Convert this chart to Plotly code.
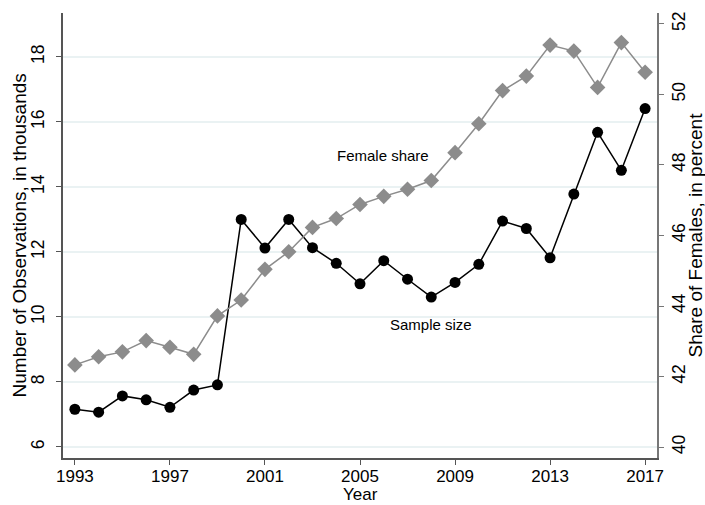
import plotly.graph_objects as go

years = list(range(1993, 2018))
sample_size = [7.16, 7.07, 7.57, 7.45, 7.22, 7.75, 7.91, 13.0, 12.12, 13.0, 12.13, 11.65, 11.02,
               11.73, 11.16, 10.61, 11.06, 11.62, 12.95, 12.72, 11.82, 13.78, 15.68, 14.51, 16.41]
female_share = [42.33, 42.56, 42.70, 43.02, 42.83, 42.63, 43.72, 44.17, 45.04, 45.54, 46.23, 46.48, 46.88,
                47.11, 47.31, 47.56, 48.35, 49.17, 50.11, 50.52, 51.40, 51.23, 50.20, 51.47, 50.63]
x_ticks = [1993, 1997, 2001, 2005, 2009, 2013, 2017]
left_ticks = [6, 8, 10, 12, 14, 16, 18]
right_ticks = [40, 42, 44, 46, 48, 50, 52]

font = "Liberation Sans"

fig = go.Figure()
fig.add_trace(go.Scatter(x=years, y=female_share, yaxis="y2", mode="lines+markers",
                         line=dict(color="#8c8c8c", width=1.5),
                         marker=dict(symbol="diamond", size=12, color="#8c8c8c"),
                         showlegend=False))
fig.add_trace(go.Scatter(x=years, y=sample_size, yaxis="y", mode="lines+markers",
                         line=dict(color="#000000", width=1.5),
                         marker=dict(symbol="circle", size=11, color="#000000"),
                         showlegend=False))

fig.add_annotation(x=2005.97, y=48.28, yref="y2", text="Female share", showarrow=False,
                   font=dict(family=font, size=15, color="#000"))
fig.add_annotation(x=2008.0, y=9.78, yref="y", text="Sample size", showarrow=False,
                   font=dict(family=font, size=15, color="#000"))

# axis titles as paper annotations
fig.add_annotation(xref="paper", yref="paper", x=0.5, y=-0.0809, text="Year", showarrow=False,
                   xanchor="center", yanchor="middle", font=dict(family=font, size=17, color="#000"))
fig.add_annotation(xref="paper", yref="paper", x=-0.0725, y=0.5, text="Number of Observations, in thousands",
                   showarrow=False, textangle=-90, xanchor="center", yanchor="middle",
                   font=dict(family=font, size=19, color="#000"))
fig.add_annotation(xref="paper", yref="paper", x=1.064, y=0.5, text="Share of Females, in percent",
                   showarrow=False, textangle=-90, xanchor="center", yanchor="middle",
                   font=dict(family=font, size=19, color="#000"))

fig.update_layout(
    width=705, height=505,
    margin=dict(l=63, r=48, t=13, b=47),
    paper_bgcolor="white", plot_bgcolor="white",
    font=dict(family=font, size=18, color="#000"),
    xaxis=dict(range=[1992.5, 2017.5], tickvals=x_ticks, showgrid=False, zeroline=False,
               showline=True, linecolor="#555555", linewidth=1.5, ticks="outside", ticklen=5,
               tickcolor="#555555", automargin=False, ticklabelstandoff=-3,
               tickfont=dict(size=17)),
    yaxis=dict(range=[5.66, 19.35], tickvals=left_ticks, tickangle=-90, showgrid=True,
               gridcolor="#eaf2f3", gridwidth=1.5, zeroline=False,
               showline=True, linecolor="#555555", linewidth=1.5, ticks="outside", ticklen=5,
               tickcolor="#555555", ticklabelstandoff=5, automargin=False,
               tickfont=dict(size=17.5)),
    yaxis2=dict(range=[39.69, 52.31], tickvals=right_ticks, tickangle=-90, overlaying="y", side="right",
                showgrid=False, zeroline=False, anchor="x",
                showline=True, linecolor="#777777", linewidth=1.5, ticks="outside", ticklen=5,
                tickcolor="#777777", ticklabelstandoff=0, automargin=False,
                tickfont=dict(size=17.5)),
)

fig.write_html("out.html")
